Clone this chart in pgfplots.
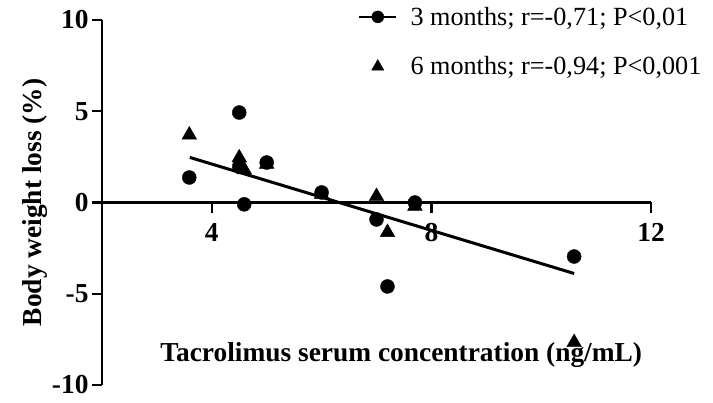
\documentclass[border=0pt]{standalone}
\usepackage{fontspec}
\setmainfont{Liberation Serif}
\usepackage{pgfplots}
\usepackage{pgfplotstable}
\pgfplotsset{compat=1.18}
\pgfplotstableread{
x y
3.59 1.37
4.50 4.93
4.50 1.97
5.00 2.19
4.59 -0.10
6.00 0.55
7.00 -0.93
7.70 0.00
7.20 -4.60
10.60 -2.96
}\threemonths
\pgfplotstableread{
x y
3.59 3.70
4.50 2.45
4.59 1.80
5.00 2.10
6.00 0.45
7.00 0.33
7.20 -1.64
7.70 -0.20
10.60 -7.67
}\sixmonths
\pgfplotstableread{
x y
3.60 2.47
10.60 -3.89
}\fitline
\pgfplotsset{
  leglinecirc/.style={legend image code/.code={\draw[black, line width=2.5bp] (0bp,0bp) -- (37bp,0bp); \fill[black] (18.5bp,0bp) circle (6bp);}},
  legtri/.style={legend image code/.code={\path[fill=black,draw=none] plot[mark=triangle*, mark size=7bp] coordinates {(18.5bp,0bp)};}},
}
\begin{document}
\begin{tikzpicture}
\begin{axis}[
  scale only axis, width=549bp, height=365bp,
  xmin=2, xmax=12, ymin=-10, ymax=10,
  axis x line*=middle, axis y line*=left,
  axis line style={line width=2.5bp, black},
  xtick={4,8,12}, ytick={-10,-5,0,5,10},
  tick align=outside, major tick length=10bp,
  tick style={line width=2.5bp, black},
  ticklabel style={font=\fontsize{27.5}{31}\selectfont\bfseries},
  xticklabel style={yshift=-7bp},
  /pgf/number format/assume math mode=true,
  clip=false,
  xlabel={Tacrolimus serum concentration (ng/mL)},
  xlabel style={at={(axis description cs:0.545,0.082)}, anchor=center, font=\fontsize{27.5}{31}\selectfont\bfseries},
  ylabel={Body weight loss (\%)},
  ylabel style={at={(axis description cs:-0.122,0.5)}, anchor=center, font=\fontsize{27.5}{31}\selectfont\bfseries},
  legend style={at={(axis description cs:0.466,1.036)}, anchor=north west, draw=none, fill=none,
    font=\fontsize{26.3}{30}\selectfont, row sep=30bp, inner sep=0pt,
    nodes={inner xsep=13bp, inner ysep=0pt}},
  legend cell align=left,
]
\addlegendimage{leglinecirc}
\addlegendentry{3 months; r=-0,71; P<0,01}
\addlegendimage{legtri}
\addlegendentry{6 months; r=-0,94; P<0,001}
\addplot[forget plot, only marks, mark=triangle*, mark size=8.5bp, black, fill=black] table {\sixmonths};
\addplot[forget plot, only marks, mark=*, mark size=7bp, black, fill=black] table {\threemonths};
\addplot[forget plot, no marks, line width=3bp, black] table {\fitline};
\end{axis}
\pgfresetboundingbox
\useasboundingbox (-102bp,-18bp) rectangle (611bp,385bp);
\end{tikzpicture}
\end{document}
